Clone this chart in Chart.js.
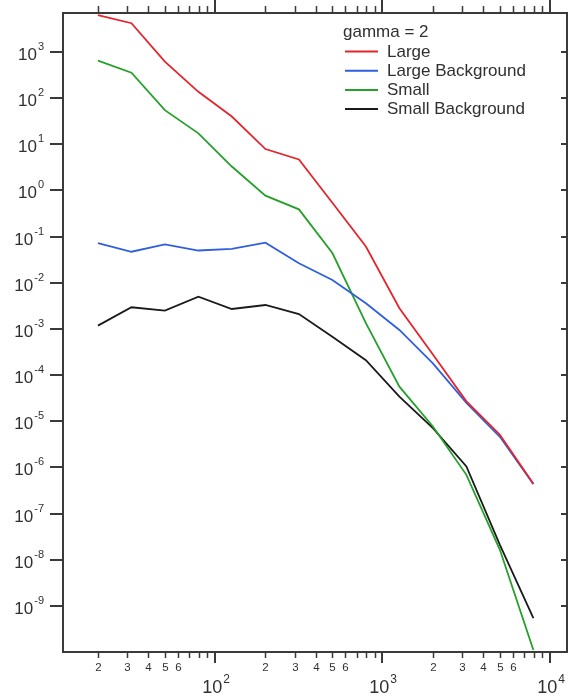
<!DOCTYPE html>
<html>
<head>
<meta charset="utf-8">
<script src="https://cdn.jsdelivr.net/npm/chart.js@4"></script>
<style>
  html, body { margin: 0; padding: 0; background: #ffffff; }
  canvas { display: block; }
</style>
</head>
<body>
<canvas id="chart" width="570" height="698"></canvas>
<script>
// Bin centres (log-spaced) and the four spectra
const xValues = [20, 31.7, 50.2, 79.6, 126, 200, 317, 502, 796, 1262, 2000, 3170, 5024, 7962];
const largeValues = [6300, 4200, 620, 137, 40, 7.9, 4.7, 0.54, 0.061, 0.0028, 2.8e-4, 2.7e-5, 5.1e-6, 4.4e-7];
const largeBackgroundValues = [0.072, 0.047, 0.068, 0.050, 0.054, 0.074, 0.0265, 0.0115, 0.0036, 9.5e-4, 1.8e-4, 2.5e-5, 4.6e-6, 4.3e-7];
const smallValues = [650, 357, 55, 17.3, 3.3, 0.77, 0.39, 0.044, 1.33e-3, 5.6e-5, 7.7e-6, 6.9e-7, 1.64e-8, 1.1e-10];
const smallBackgroundValues = [1.18e-3, 2.95e-3, 2.5e-3, 5.0e-3, 2.7e-3, 3.3e-3, 2.1e-3, 6.8e-4, 2.1e-4, 3.4e-5, 7.1e-6, 1.05e-6, 2.1e-8, 5.4e-10];

const seriesLabels = ['Large', 'Large Background', 'Small', 'Small Background'];
const legendTitle = 'gamma = 2';

// Axis ticks
const yTickExponents = [-9, -8, -7, -6, -5, -4, -3, -2, -1, 0, 1, 2, 3];
const xDecadeExponents = [1, 2, 3];          // minor ticks 2..9 inside each decade
const xMajorExponents = [2, 3, 4];
const xMinorMultipliers = [2, 3, 4, 5, 6, 7, 8, 9];
const xLabelledMultipliers = [2, 3, 4, 5, 6];

const colors = ['#e3252d', '#2f5fdc', '#25a02a', '#1a1a1a'];
const FONT = '"Liberation Sans", Arial, sans-serif';
const AXIS_COLOR = '#3a3a3a';
const TEXT_COLOR = '#303030';

function toPoints(values) {
  return values.map((v, i) => ({ x: xValues[i], y: v }));
}

const seriesValues = [largeValues, largeBackgroundValues, smallValues, smallBackgroundValues];

// Draws "10" with a raised exponent; align = 'right' or 'center'
function drawPower(ctx, exp, xRef, baseline, align, baseSize, supSize, rise) {
  const base = '10';
  const sup = String(exp);
  ctx.font = baseSize + 'px ' + FONT;
  const bw = ctx.measureText(base).width;
  ctx.font = supSize + 'px ' + FONT;
  const sw = ctx.measureText(sup).width;
  const total = bw + 1 + sw;
  const left = align === 'right' ? xRef - total : xRef - total / 2;
  ctx.textAlign = 'left';
  ctx.textBaseline = 'alphabetic';
  ctx.font = baseSize + 'px ' + FONT;
  ctx.fillText(base, left, baseline);
  ctx.font = supSize + 'px ' + FONT;
  ctx.fillText(sup, left + bw + 1, baseline - rise);
}

const axesPlugin = {
  id: 'framedLogAxes',
  afterDatasetsDraw(chart) {
    const { ctx, chartArea: a, scales: { x, y } } = chart;
    ctx.save();
    ctx.strokeStyle = AXIS_COLOR;
    ctx.fillStyle = TEXT_COLOR;
    ctx.lineWidth = 2;
    ctx.lineCap = 'butt';

    // frame
    ctx.beginPath();
    ctx.rect(a.left, a.top, a.right - a.left, a.bottom - a.top);
    ctx.stroke();

    // y axis: decade ticks outside on the left, short ones inside on the right
    yTickExponents.forEach(e => {
      const py = Math.round(y.getPixelForValue(Math.pow(10, e)));
      ctx.beginPath();
      ctx.moveTo(a.left - 13, py);
      ctx.lineTo(a.left, py);
      ctx.moveTo(a.right, py);
      ctx.lineTo(a.right - 6, py);
      ctx.stroke();
      drawPower(ctx, e, 44, py + 8, 'right', 17, 11, 10);
    });

    // x axis: minor ticks with digit labels, decade ticks with powers of ten
    ctx.lineWidth = 1.5;
    xDecadeExponents.forEach(d => {
      xMinorMultipliers.forEach(m => {
        const v = m * Math.pow(10, d);
        if (v < x.min || v > x.max) return;
        const px = Math.round(x.getPixelForValue(v)) + 0.5;
        ctx.beginPath();
        ctx.moveTo(px, a.bottom);
        ctx.lineTo(px, a.bottom + 6);
        ctx.moveTo(px, a.top);
        ctx.lineTo(px, a.top - 7);
        ctx.stroke();
        if (xLabelledMultipliers.includes(m)) {
          ctx.font = '11.5px ' + FONT;
          ctx.textAlign = 'center';
          ctx.textBaseline = 'alphabetic';
          ctx.fillText(String(m), px, a.bottom + 19);
        }
      });
    });
    ctx.lineWidth = 2;
    xMajorExponents.forEach(e => {
      const px = Math.round(x.getPixelForValue(Math.pow(10, e)));
      ctx.beginPath();
      ctx.moveTo(px, a.bottom);
      ctx.lineTo(px, a.bottom + 11);
      ctx.moveTo(px, a.top);
      ctx.lineTo(px, a.top - 13);
      ctx.stroke();
      drawPower(ctx, e, px + 1, a.bottom + 41, 'center', 18, 12, 10);
    });

    // legend inside the plot, upper right
    const lx = 345, tx = 387;
    ctx.textAlign = 'left';
    ctx.textBaseline = 'alphabetic';
    ctx.font = '17px ' + FONT;
    ctx.fillStyle = TEXT_COLOR;
    ctx.fillText(legendTitle, 343, 37);
    chart.data.datasets.forEach((ds, i) => {
      const base = 56.5 + i * 19.2;
      ctx.strokeStyle = ds.borderColor;
      ctx.lineWidth = 2;
      ctx.beginPath();
      ctx.moveTo(lx, base - 5);
      ctx.lineTo(lx + 33, base - 5);
      ctx.stroke();
      ctx.fillStyle = TEXT_COLOR;
      ctx.fillText(ds.label, tx, base);
    });
    ctx.restore();
  }
};

new Chart(document.getElementById('chart'), {
  type: 'line',
  data: {
    datasets: seriesValues.map((vals, i) => ({
      label: seriesLabels[i],
      data: toPoints(vals),
      borderColor: colors[i],
      backgroundColor: colors[i],
      borderWidth: 1.8,
      pointRadius: 0,
      tension: 0,
      fill: false
    }))
  },
  options: {
    responsive: false,
    animation: false,
    devicePixelRatio: 1,
    layout: { padding: { left: 63, top: 13, right: 3, bottom: 46 } },
    plugins: { legend: { display: false }, tooltip: { enabled: false } },
    scales: {
      x: { type: 'logarithmic', display: false, min: 12.37, max: 12640 },
      y: { type: 'logarithmic', display: false, min: 1e-10, max: 7000 }
    }
  },
  plugins: [axesPlugin]
});
</script>
</body>
</html>
